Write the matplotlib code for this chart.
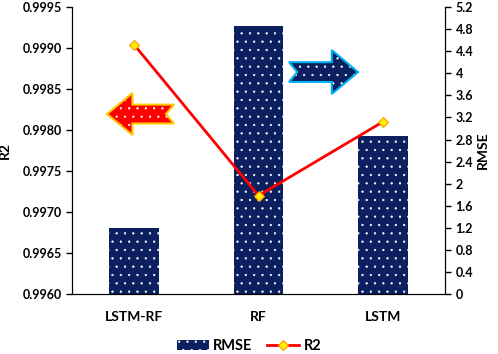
import matplotlib.pyplot as plt
import numpy as np
from matplotlib.patches import Polygon

plt.rcParams['font.family'] = ['Lato', 'DejaVu Sans']
plt.rcParams['font.weight'] = 'bold'
plt.rcParams['hatch.color'] = 'white'
plt.rcParams['hatch.linewidth'] = 0.4

# data
models = ['LSTM-RF', 'RF', 'LSTM']
rmse = [1.2, 4.85, 2.86]
r2 = [0.99904, 0.99720, 0.99810]
r2_ticks = [0.9960, 0.9965, 0.9970, 0.9975, 0.9980, 0.9985, 0.9990, 0.9995]
rmse_ticks = [0, 0.4, 0.8, 1.2, 1.6, 2, 2.4, 2.8, 3.2, 3.6, 4, 4.4, 4.8, 5.2]

navy = '#0c2060'

fig = plt.figure(figsize=(4.98, 3.54), dpi=100)
ax = fig.add_axes([0.1446, 0.1695, 0.749, 0.8105])
ax2 = ax.twinx()

x = np.arange(len(models))
ax2.bar(x, rmse, width=0.4, color=navy, hatch='..', linewidth=0, label='RMSE', zorder=1)
ax2.set_ylim(0, 5.2)
ax2.set_yticks(rmse_ticks)
ax2.set_yticklabels([f'{t:g}' for t in rmse_ticks])

ax.plot(x, r2, color='red', lw=2, marker='D', ms=5.5, mfc='#ffee00', mec='#ff9900',
        mew=0.8, label='R2', zorder=5)
ax.set_ylim(0.9960, 0.9995)
ax.set_yticks(r2_ticks)
ax.set_yticklabels([f'{t:.4f}' for t in r2_ticks])
ax.set_xlim(-0.5, 2.5)
ax.set_xticks(x)
ax.set_xticklabels(models)

# line on top of bars
ax.set_zorder(ax2.get_zorder() + 1)
ax.patch.set_visible(False)

for a in (ax, ax2):
    a.spines['top'].set_visible(False)
    a.tick_params(labelsize=9, width=1, length=4)
ax.tick_params(axis='x', length=0, pad=12, labelsize=10)
ax.set_ylabel('R2', fontsize=10, fontweight='bold')
ax.yaxis.set_label_coords(-0.165, 0.5)
ax2.set_ylabel('RMSE', fontsize=10, fontweight='bold')
ax2.yaxis.set_label_coords(1.085, 0.5)

# arrows (axes fraction coordinates)
def arrow(xl, xr, yc, h, direction, fc, ec):
    w = xr - xl
    hh = h / 2
    sh = hh * 0.45
    head = w * 0.38
    notch = w * 0.12
    if direction == 'left':
        pts = [(xl, yc), (xl + head, yc + hh), (xl + head, yc + sh), (xr, yc + sh),
               (xr - notch, yc), (xr, yc - sh), (xl + head, yc - sh), (xl + head, yc - hh)]
    else:
        pts = [(xr, yc), (xr - head, yc + hh), (xr - head, yc + sh), (xl, yc + sh),
               (xl + notch, yc), (xl, yc - sh), (xr - head, yc - sh), (xr - head, yc - hh)]
    ax.add_patch(Polygon(pts, closed=True, transform=ax.transAxes, facecolor=fc,
                         hatch='..', lw=0, zorder=6))
    ax.add_patch(Polygon(pts, closed=True, transform=ax.transAxes, fill=False,
                         edgecolor=ec, lw=1.5, zorder=7))

arrow((107 - 72) / 373, (174 - 72) / 373, 1 - (114 - 7) / 287, 42 / 287, 'left', '#ff0000', '#ffcc00')
arrow((289 - 72) / 373, (358 - 72) / 373, 1 - (72 - 7) / 287, 44 / 287, 'right', navy, '#00b0f0')

h1, l1 = ax2.get_legend_handles_labels()
h2, l2 = ax.get_legend_handles_labels()
fig.legend(h1 + h2, l1 + l2, loc='lower center', bbox_to_anchor=(0.5, -0.035), ncol=2,
           frameon=False, fontsize=10.5, handlelength=2.2, columnspacing=1.0, handletextpad=0.3)

fig.savefig('out.png', dpi=100)
